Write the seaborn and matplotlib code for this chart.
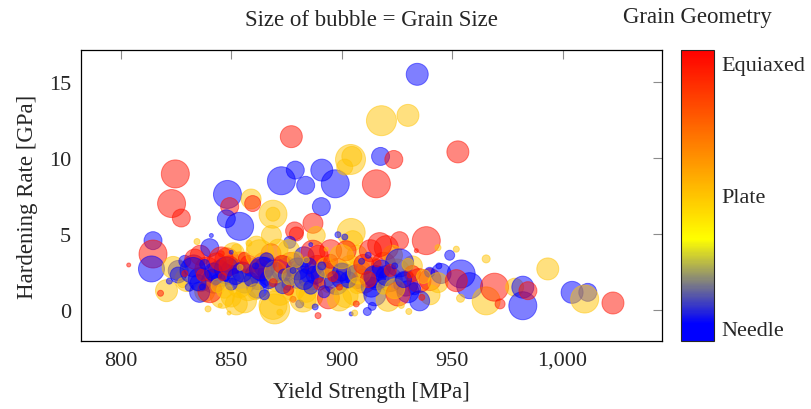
import numpy as np
import pandas as pd
import matplotlib
matplotlib.use("Agg")
import matplotlib.pyplot as plt
import seaborn as sns
from matplotlib.colors import LinearSegmentedColormap, Normalize
from matplotlib.cm import ScalarMappable
from matplotlib.ticker import FuncFormatter

# ---- data: yield strength [MPa], hardening rate [GPa], grain size, geometry (0 needle, 1 plate, 2 equiaxed)
yield_strength = [
    934.2, 918.0, 930.0, 917.6, 923.6, 952.6, 915.7, 824.7, 877.2, 872.7,
    879.0, 891.0, 897.1, 883.7, 904.0, 904.6, 901.4, 848.3, 823.0, 827.4,
    849.3, 847.8, 853.8, 859.0, 859.7, 868.9, 868.9, 890.8, 868.2, 887.0,
    878.7, 879.5, 876.5, 888.5, 905.0, 904.3, 938.3, 926.2, 920.2, 814.6,
    814.6, 813.9, 803.6,
    # dense band (added layer)
    826.0, 830.0, 833.0, 836.0, 839.0, 842.0, 845.0, 848.0, 851.0, 854.0,
    856.0, 859.0, 862.0, 865.0, 868.0, 871.0, 874.0, 877.0, 880.0, 883.0,
    886.0, 889.0, 892.0, 895.0, 898.0, 901.0, 904.0, 907.0, 910.0, 913.0,
    916.0, 919.0, 922.0, 925.0, 929.0, 932.0, 940.0, 945.0,
    838.0, 846.0, 856.0, 862.0, 878.0, 886.0, 894.0, 906.0, 915.0, 921.0,
    930.0, 940.0,
    836.0, 851.0, 868.0, 876.0, 883.0, 895.0, 907.0, 913.0, 923.0,
    # band points read individually
    823.7, 820.7, 818.0, 826.0, 829.0, 828.0, 822.0,
    834.5, 841.0, 840.3, 833.5, 832.7, 835.7, 840.3, 839.5, 843.3, 843.3,
    835.0, 837.0, 838.0, 842.0, 844.0, 831.0, 845.0,
    852.3, 845.5, 847.8, 849.0, 852.3, 850.0, 849.0, 857.6, 845.5, 853.8,
    855.0, 852.0, 858.0, 856.0, 850.0, 859.0, 847.0, 850.0,
    861.4, 871.2, 862.9, 865.2, 862.9, 863.7, 875.7, 868.9, 869.7, 872.0,
    873.4, 872.0, 867.0, 870.0, 873.0, 866.0, 874.0, 861.0, 865.0,
    878.0, 881.0, 884.0, 889.3, 882.5, 887.0, 889.3, 880.0, 877.0, 883.0,
    885.0, 888.0, 879.0, 886.0, 876.0, 890.0, 886.0,
    898.3, 901.4, 902.0, 897.6, 902.0, 899.0, 904.3, 905.9, 893.0, 895.0,
    900.0, 903.0, 892.0, 896.0, 900.0, 893.0,
    906.6, 911.6, 913.8, 913.4, 908.0, 917.2, 910.0, 915.0, 918.0, 912.0,
    907.0, 919.0, 920.2, 912.0,
    926.2, 933.8, 943.6, 948.9, 951.9, 935.0, 939.8, 943.6, 935.3, 932.0,
    933.0, 925.5, 924.0, 930.4, 936.3, 928.0, 922.0, 930.0, 937.0, 954.1,
    957.9, 951.9, 953.8, 965.4,
    # small dots
    829.0, 837.0, 846.0, 854.0, 861.0, 869.0, 878.0, 884.0, 891.0, 899.0,
    909.0, 916.0, 924.0, 931.0, 944.0, 858.0, 888.0, 927.0,
    # right tail
    965.4, 969.2, 971.7, 978.3, 982.0, 982.0, 984.3, 993.3, 1004.3, 1011.4,
    1010.0, 1022.8,
]
hardening_rate = [
    15.5, 12.45, 12.8, 10.1, 9.9, 10.4, 8.3, 8.95, 11.4, 8.5,
    9.2, 9.2, 8.3, 8.2, 9.9, 10.1, 9.4, 7.6, 7.0, 6.05,
    6.8, 6.0, 5.5, 7.3, 7.0, 6.3, 6.3, 6.8, 4.9, 5.7,
    5.2, 5.0, 4.45, 4.9, 4.56, 5.1, 4.56, 4.56, 4.1, 4.56,
    3.68, 2.7, 2.96,
    2.6, 2.0, 2.9, 2.0, 2.7, 1.9, 2.4, 3.3, 2.5, 3.1,
    1.9, 2.6, 2.2, 3.0, 2.4, 2.0, 2.7, 3.0, 2.2, 2.6,
    2.1, 2.8, 2.3, 1.9, 2.6, 2.2, 2.8, 2.2, 1.9, 2.6,
    2.1, 3.0, 2.0, 2.5, 1.7, 2.9, 2.0, 2.4,
    1.2, 0.9, 0.6, 1.5, 1.4, 0.9, 0.8, 1.1, 1.0, 0.7,
    1.2, 1.0,
    3.6, 3.7, 3.7, 3.9, 3.5, 3.9, 3.6, 3.9, 3.6,
    2.8, 1.27, 1.1, 2.3, 3.2, 1.8, 1.9,
    4.5, 4.9, 4.1, 3.35, 2.6, 1.16, 1.27, 0.07, 3.1, 2.0,
    1.8, 2.3, 3.0, 2.5, 1.6, 1.5, 0.3,
    4.0, 3.7, 2.7, 2.9, 0.4, 0.85, -0.2, 1.4, 3.36, 1.6,
    2.5, 2.2, 3.0, 3.4, 1.7, 2.0, 1.3, 3.8,
    4.2, 4.0, 3.7, 2.8, 2.7, 2.7, 1.7, 0.3, 0.07, 1.16,
    1.6, -0.15, 2.0, 2.5, 3.0, 3.3, 2.3, 1.2, 1.0,
    0.7, 0.4, 1.16, -0.37, 0.72, 3.8, 3.6, 2.7, 2.2, 2.0,
    2.9, 2.3, 3.3, 1.5, 1.3, 1.7, 4.3,
    4.95, 4.8, 3.9, 1.8, 0.95, 0.72, -0.26, -0.2, 2.8, 3.2,
    2.5, 2.0, 1.2, 2.2, 3.5, 4.0,
    0.4, -0.1, 0.24, 1.5, 2.5, 4.3, 3.0, 2.2, 2.7, 2.0,
    1.6, 1.5, 2.26, 3.6,
    3.1, 3.9, 4.1, 3.6, 4.0, 1.93, 2.48, 1.8, 0.6, 2.4,
    1.4, 1.05, 1.4, -0.1, 0.83, 2.0, 2.6, 3.0, 2.2, 2.37,
    1.6, 1.93, 0.77, 3.36,
    2.4, 1.5, 2.2, 2.8, 2.9, 1.8, 2.6, 3.3, 2.9, 1.5,
    3.2, 3.1, 2.9, 2.3, 2.9, 4.4, 0.2, 0.3,
    0.6, 1.5, 0.4, 1.5, 1.5, 0.28, 1.27, 2.7, 1.16, 1.16,
    0.72, 0.46,
]
grain_size = [
    11, 15, 11, 9, 9, 11, 14, 14, 11, 14,
    9, 11, 14, 9, 15, 10, 8, 14, 14, 9,
    9, 9, 14, 10, 8, 14, 7, 9, 10, 10,
    9, 7, 6, 9, 10, 14, 14, 9, 12, 9,
    14, 13, 2,
    10, 12, 11, 12, 12, 12, 13, 12, 13, 11,
    12, 12, 13, 12, 13, 12, 13, 12, 12, 13,
    12, 12, 13, 12, 12, 13, 12, 12, 12, 13,
    12, 12, 12, 13, 12, 10, 11, 10,
    10, 12, 12, 11, 12, 12, 11, 12, 11, 12,
    11, 10,
    10, 11, 10, 11, 10, 11, 10, 11, 10,
    11, 11, 3, 8, 6, 5, 3,
    3, 2, 9, 10, 13, 10, 12, 3, 10, 5,
    8, 6, 5, 9, 7, 4, 2,
    5, 3, 12, 10, 11, 10, 2, 12, 12, 12,
    10, 8, 9, 6, 6, 7, 8, 2,
    10, 10, 14, 10, 10, 12, 6, 14, 15, 13,
    8, 3, 9, 11, 9, 7, 6, 8, 5,
    3, 4, 10, 3, 13, 12, 10, 11, 9, 10,
    8, 9, 8, 7, 5, 6, 2,
    3, 3, 10, 12, 12, 12, 2, 3, 10, 7,
    9, 8, 6, 5, 12, 2,
    3, 4, 4, 10, 12, 12, 10, 11, 9, 8,
    8, 7, 10, 3,
    14, 2, 3, 5, 3, 12, 5, 10, 10, 8,
    6, 12, 10, 3, 3, 8, 6, 6, 7, 14,
    13, 11, 4, 4,
    3, 3, 4, 3, 3, 4, 3, 3, 4, 3,
    3, 4, 3, 3, 3, 3, 3, 3,
    14, 14, 5, 9, 11, 14, 9, 11, 11, 9,
    14, 11,
]
geometry = [
    0, 1, 1, 0, 2, 2, 2, 2, 2, 0,
    0, 0, 0, 0, 1, 1, 1, 0, 2, 2,
    2, 0, 0, 1, 2, 1, 1, 0, 1, 2,
    2, 2, 0, 1, 1, 1, 2, 2, 2, 0,
    2, 0, 2,
    0, 1, 0, 0, 2, 0, 0, 2, 0, 2,
    0, 1, 0, 2, 0, 1, 0, 2, 0, 1,
    0, 2, 0, 1, 2, 0, 1, 0, 2, 1,
    0, 2, 0, 1, 0, 1, 2, 0,
    1, 1, 1, 0, 1, 1, 2, 1, 0, 1,
    0, 1,
    2, 1, 2, 1, 0, 2, 1, 2, 1,
    1, 1, 2, 0, 0, 1, 0,
    1, 0, 0, 2, 0, 0, 2, 1, 2, 0,
    0, 2, 0, 0, 1, 0, 1,
    1, 2, 0, 2, 1, 1, 1, 1, 2, 1,
    0, 0, 2, 2, 0, 0, 1, 0,
    1, 1, 1, 0, 2, 0, 0, 1, 1, 1,
    0, 1, 0, 1, 2, 0, 0, 1, 0,
    2, 0, 1, 2, 1, 2, 2, 0, 1, 0,
    0, 0, 1, 0, 2, 2, 0,
    0, 0, 2, 0, 1, 1, 0, 1, 1, 2,
    0, 0, 0, 2, 1, 1,
    2, 0, 0, 0, 1, 2, 2, 0, 0, 2,
    1, 1, 0, 0,
    0, 2, 1, 0, 1, 2, 0, 1, 0, 2,
    0, 2, 1, 1, 2, 0, 2, 1, 1, 0,
    0, 2, 1, 1,
    2, 0, 2, 1, 0, 2, 0, 1, 0, 2,
    0, 2, 0, 2, 0, 1, 0, 1,
    1, 2, 2, 1, 0, 0, 2, 1, 0, 0,
    1, 2,
]
geometry_labels = ["Needle", "Plate", "Equiaxed"]
x_ticks = [800, 850, 900, 950, 1000]
y_ticks = [0, 5, 10, 15]

df = pd.DataFrame({"ys": yield_strength, "hr": hardening_rate,
                   "gs": grain_size, "geo": geometry})
# marker area in pt^2 so that bubble radius (px at 100 dpi) follows grain size
df["area"] = (1.44 * df["gs"]) ** 2

cmap = LinearSegmentedColormap.from_list(
    "geo", [(0.0, (0, 0, 1)), (0.06, (0, 0, 1)), (0.2, (0.5, 0.5, 0.5)),
            (0.35, (1, 1, 0)), (1.0, (1, 0, 0))])
norm = Normalize(vmin=-0.1, vmax=2.1)

sns.set_style("white")
plt.rcParams["font.family"] = ["Liberation Serif", "DejaVu Serif"]

fig = plt.figure(figsize=(8.12, 4.10), dpi=100)
ax = fig.add_axes([81 / 812, 68 / 410, 581 / 812, 291 / 410])

amin, amax = df["area"].min(), df["area"].max()
sns.scatterplot(data=df, x="ys", y="hr", hue="geo", palette=cmap, hue_norm=norm,
                size="area", sizes=(amin, amax), size_norm=(amin, amax),
                alpha=0.5, linewidth=0.7, legend=False, ax=ax)
# edge in same colour as the face
cols = cmap(norm(df["geo"].values))
ax.collections[0].set_edgecolors(cols)

ax.set_xlim(782, 1045)
ax.set_ylim(-2.04, 17.1)
ax.set_xticks(x_ticks)
ax.set_yticks(y_ticks)
ax.xaxis.set_major_formatter(FuncFormatter(lambda v, p: f"{v:,.0f}"))
ax.tick_params(direction="in", length=6.5, width=0.8, color="#8c8c8c",
               top=True, right=True, labelsize=16, pad=7)
for s in ax.spines.values():
    s.set_color("black")
    s.set_linewidth(0.9)
ax.set_xlabel("Yield Strength [MPa]", fontsize=16.5, labelpad=8)
ax.set_ylabel("Hardening Rate [GPa]", fontsize=16.5, labelpad=8)

cax = fig.add_axes([681 / 812, 68 / 410, 33 / 812, 291 / 410])
cb = fig.colorbar(ScalarMappable(norm=norm, cmap=cmap), cax=cax, ticks=[0, 1, 2])
cb.ax.set_yticklabels(geometry_labels)
cb.outline.set_linewidth(0.8)
cb.ax.tick_params(direction="in", length=6, width=0.8, color="#8c8c8c",
                  left=True, right=True, labelsize=16, pad=5)

fig.text(371 / 812, 1 - 20 / 410, "Size of bubble = Grain Size", ha="center",
         va="center", fontsize=16.5)
fig.text(697 / 812, 1 - 18 / 410, "Grain Geometry", ha="center", va="center",
         fontsize=16.5)

fig.savefig("out.png", dpi=100)
